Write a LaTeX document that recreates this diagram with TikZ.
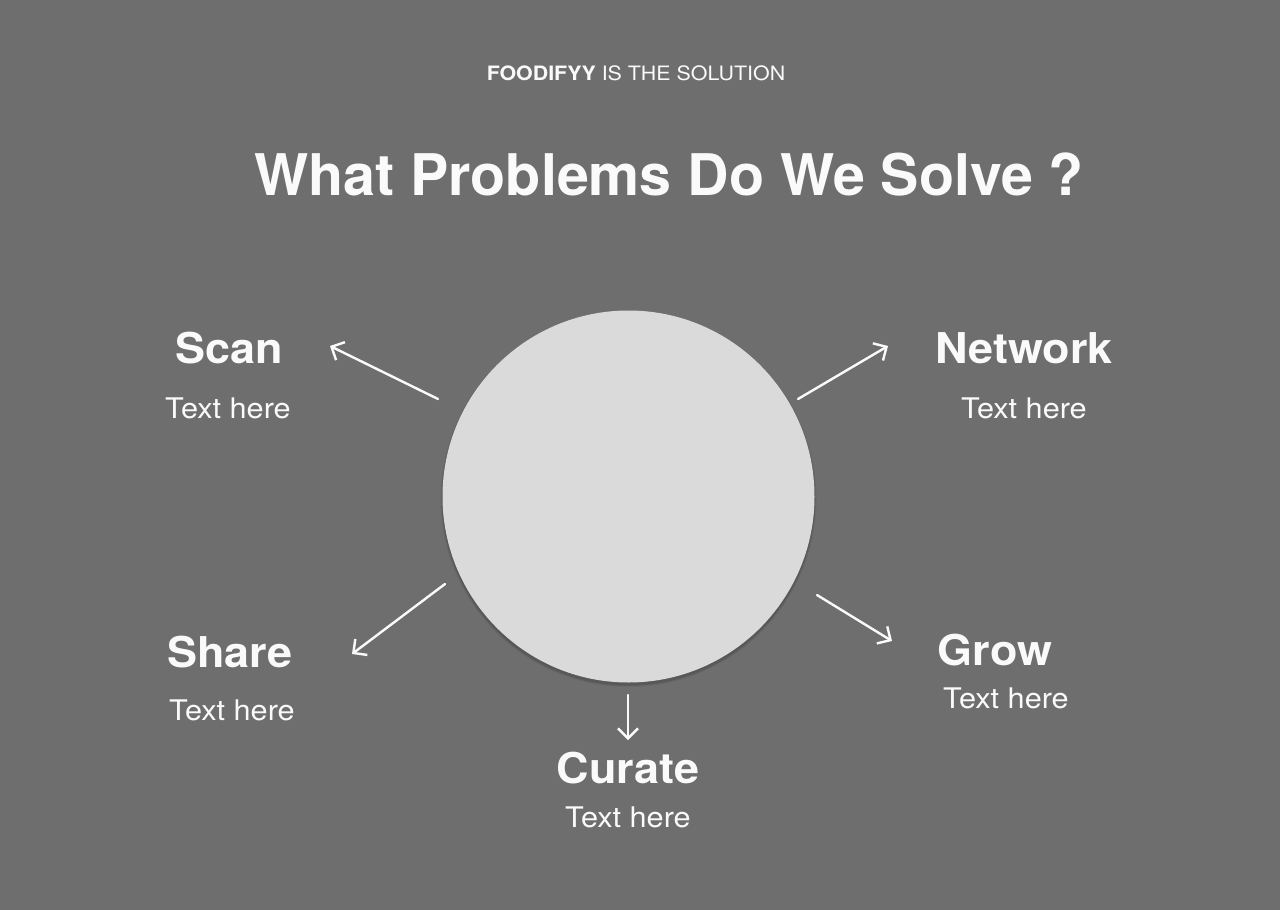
\documentclass[tikz,border=0pt]{standalone}
\usepackage{fontspec}
\setmainfont{TeX Gyre Heros}
\newfontfamily\widefont{TeX Gyre Heros}[FakeStretch=1.08]
\newfontfamily\topicfont{TeX Gyre Heros}[FakeStretch=1.06]
\usetikzlibrary{arrows.meta}
\definecolor{bgcol}{HTML}{6E6E6E}
\definecolor{disc}{HTML}{DADADA}
\definecolor{ink}{HTML}{FAFAFA}
\begin{document}
\begin{tikzpicture}[x=0.5pt,y=-0.5pt,
  every node/.style={inner sep=0pt, text=ink, anchor=base},
  heading/.style={font=\fontsize{28.7}{32}\selectfont\bfseries},
  kicker/.style={font=\widefont\fontsize{9.9}{11}\selectfont},
  topic/.style={font=\topicfont\fontsize{21.2}{24}\selectfont\bfseries},
  caption/.style={font=\widefont\fontsize{14.2}{16}\selectfont},
  pointer/.style={draw=ink, line width=1.2pt, line cap=round,
    -{Straight Barb[length=5pt, width=10pt, line width=1.2pt]}}]
\fill[bgcol] (0,0) rectangle (1280,910);
\useasboundingbox (0,0) rectangle (1280,910);

% header lines
\node[kicker] (kick) at (636,80) {\textbf{FOODIFYY} IS THE SOLUTION};
\node[heading] (head) at (669,195) {What Problems Do We Solve ?};

% central disc with a soft shadow underneath
\foreach \r/\o in {188/0.05,187/0.07,186.5/0.08}
  \fill[black, opacity=\o] (628.5,499) circle (\r);
\node[circle, fill=disc, minimum size=186pt, anchor=center] (hub) at (628.5,496.5) {};

% topics
\node[topic] (scan) at (229,363) {Scan};
\node[caption] (scant) at (228,418) {Text here};
\node[topic] (net) at (1024,363) {Network};
\node[caption] (nett) at (1024,418) {Text here};
\node[topic] (share) at (230,667) {Share};
\node[caption] (sharet) at (232,720) {Text here};
\node[topic] (grow) at (995,665) {Grow};
\node[caption] (growt) at (1006,708) {Text here};
\node[topic] (cur) at (628,783) {Curate};
\node[caption] (curt) at (628,827) {Text here};

% arrow end points
\coordinate (s0) at (438,399); \coordinate (s1) at (330,346);
\coordinate (n0) at (798,399); \coordinate (n1) at (888,346);
\coordinate (h0) at (445,584); \coordinate (h1) at (352,654);
\coordinate (g0) at (817,595); \coordinate (g1) at (892,641);
\coordinate (c0) at (628,695); \coordinate (c1) at (628,740);

\draw[pointer] (s0) -- (s1);
\draw[pointer] (n0) -- (n1);
\draw[pointer] (h0) -- (h1);
\draw[pointer] (g0) -- (g1);
\draw[pointer] (c0) -- (c1);
\end{tikzpicture}
\end{document}
